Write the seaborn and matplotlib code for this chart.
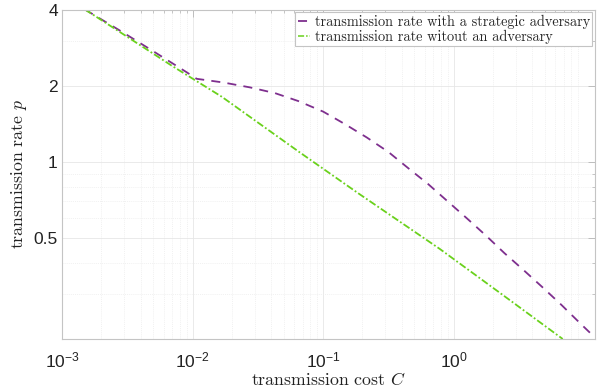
import numpy as np
import pandas as pd
import matplotlib
matplotlib.use("Agg")
import matplotlib.pyplot as plt
import seaborn as sns
from matplotlib.font_manager import FontProperties
from matplotlib.ticker import FixedLocator, NullFormatter, FuncFormatter, LogLocator

# ---- data ----
cost_adv = [1.5e-3, 2.867e-3, 5.16e-3, 9.03e-3, 0.01077, 0.01722, 0.02758, 0.04287,
            0.06465, 0.1005, 0.1475, 0.2163, 0.3165, 0.4503, 0.641, 0.8964, 1.262,
            1.774, 2.451, 3.427, 4.877, 6.748, 9.318, 11.51]
rate_adv = [4.0, 3.27, 2.71, 2.26, 2.13, 2.06, 1.97, 1.87, 1.74, 1.58, 1.41, 1.25,
            1.096, 0.945, 0.817, 0.701, 0.600, 0.512, 0.437, 0.375, 0.318, 0.272,
            0.231, 0.208]

cost_noadv = [1.5e-3, 2.75e-3, 6.93e-3, 0.01675, 0.0667, 0.1865, 0.788, 2.272, 6.87]
rate_noadv = [4.0, 3.27, 2.40, 1.81, 1.089, 0.752, 0.453, 0.304, 0.200]

series_names = ["transmission rate with a strategic adversary",
                "transmission rate witout an adversary"]
y_ticks = [0.5, 1, 2, 4]
y_ticklabels = ["0.5", "1", "2", "4"]
x_ticks = [1e-3, 1e-2, 1e-1, 1e0]
xlim = (1e-3, 12.14)
ylim = (0.2, 4.0)

df = pd.concat([
    pd.DataFrame({"C": cost_adv, "p": rate_adv, "series": series_names[0]}),
    pd.DataFrame({"C": cost_noadv, "p": rate_noadv, "series": series_names[1]}),
], ignore_index=True)

sns.set_style("white")
plt.rcParams["mathtext.fontset"] = "custom"
plt.rcParams["mathtext.rm"] = "Liberation Sans"
plt.rcParams["font.family"] = ["Liberation Sans", "DejaVu Sans"]

purple = "#7E2F8E"
green = "#6AD11C"

fig = plt.figure(figsize=(6.13, 3.92), dpi=100)
ax = fig.add_axes([62/613, 1 - 339/392, (595-62)/613, (339-9.5)/392])

sns.lineplot(data=df, x="C", y="p", hue="series", style="series",
             palette={series_names[0]: purple, series_names[1]: green},
             dashes={series_names[0]: (5, 4), series_names[1]: (4, 1.3, 1, 1.3)},
             sort=False, estimator=None, ax=ax, linewidth=1.3)
for ln in ax.get_lines():
    if ln.get_label() == series_names[1]:
        ln.set_linewidth(1.1)

ax.set_xscale("log")
ax.set_yscale("log")
ax.set_xlim(*xlim)
ax.set_ylim(*ylim)

# ticks
ax.xaxis.set_major_locator(FixedLocator(x_ticks))
ax.xaxis.set_major_formatter(FuncFormatter(lambda v, pos: r"$\mathregular{10^{%d}}$" % int(round(np.log10(v)))))
ax.xaxis.set_minor_locator(LogLocator(base=10, subs=np.arange(2, 10), numticks=20))
ax.xaxis.set_minor_formatter(NullFormatter())
ax.yaxis.set_major_locator(FixedLocator(y_ticks))
ax.yaxis.set_major_formatter(FuncFormatter(lambda v, pos: y_ticklabels[y_ticks.index(v)] if v in y_ticks else ""))
ax.yaxis.set_minor_locator(LogLocator(base=10, subs=np.arange(1, 10), numticks=20))
ax.yaxis.set_minor_formatter(NullFormatter())

ax.tick_params(axis="both", which="both", direction="in", top=True, right=True,
               color="#bdbdbd", labelsize=12.5, labelcolor="#222222")
ax.tick_params(axis="both", which="major", length=5, width=0.7)
ax.tick_params(axis="both", which="minor", length=2.5, width=0.6)
ax.tick_params(axis="y", which="major", pad=3)
ax.tick_params(axis="x", which="major", pad=8)

ax.grid(True, which="major", color="#e6e6e6", linewidth=0.6)
ax.grid(True, which="minor", color="#ececec", linewidth=0.5, linestyle=(0, (1.5, 1.5)))
ax.set_axisbelow(True)
for sp in ax.spines.values():
    sp.set_visible(True)
    sp.set_color("#c4c4c4")
    sp.set_linewidth(0.8)

cm_label = FontProperties(family="cmr10", size=12.8, math_fontfamily="cm")
ax.set_xlabel(r"transmission cost $C$", fontproperties=cm_label, color="#222222", labelpad=1)
ax.set_ylabel(r"transmission rate $p$", fontproperties=cm_label, color="#222222", labelpad=3)

handles, labels = ax.get_legend_handles_labels()
cm_leg = FontProperties(family="cmr10", size=10.3)
leg = ax.legend(handles, labels, loc="upper right", bbox_to_anchor=(1.0, 1.0),
                borderaxespad=0.2, prop=cm_leg, frameon=True, fancybox=False,
                framealpha=1, edgecolor="#c4c4c4", handlelength=0.9,
                handletextpad=0.3, borderpad=0.15, labelspacing=0.05)
leg.get_frame().set_linewidth(0.8)

fig.savefig("out.png", dpi=100)
